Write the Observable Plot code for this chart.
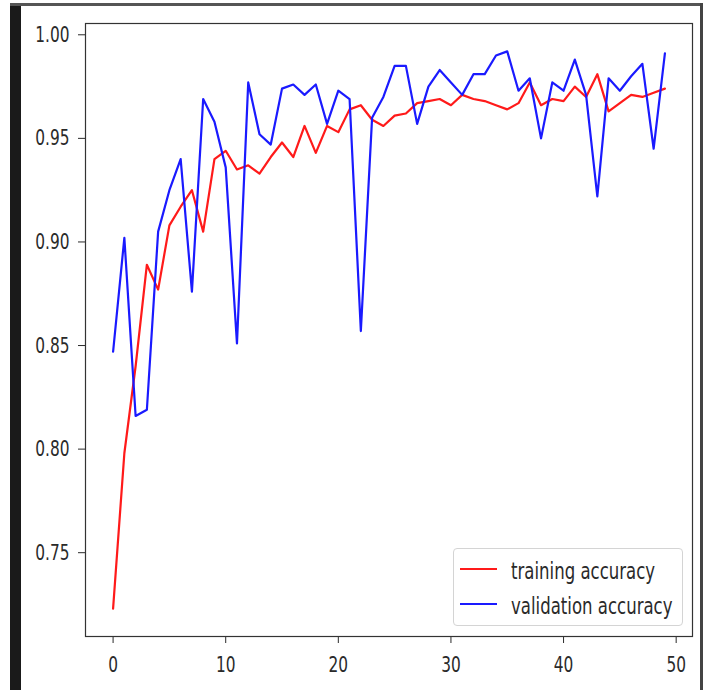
<!DOCTYPE html>
<html>
<head>
<meta charset="utf-8">
<script src="https://cdn.jsdelivr.net/npm/d3@7"></script>
<script src="https://cdn.jsdelivr.net/npm/@observablehq/plot@0.6"></script>
<style>
  html, body { margin: 0; padding: 0; background: #fff; }
  #wrap { position: relative; width: 705px; height: 690px; overflow: hidden; background: #fff; }
  #chart { position: absolute; left: 0; top: 0; }
  .deco { position: absolute; }
  #legend { position: absolute; left: 453px; top: 548px; width: 230px; height: 78px;
    border: 1px solid #d4d4d4; border-radius: 4px; background: rgba(255,255,255,0.85); box-sizing: border-box; }
  .sw { position: absolute; left: 6px; width: 37px; height: 2px; }
  .lt { position: absolute; left: 57px; font-family: "DejaVu Sans", sans-serif; font-size: 23px; color: #2a2a2a;
    white-space: nowrap; transform: scaleX(0.72); transform-origin: left center; line-height: 1; }
</style>
</head>
<body>
<div id="wrap">
  <div class="deco" style="left:10px;top:3px;width:11px;height:690px;background:#1a1a1a;"></div>
  <div class="deco" style="left:10px;top:3px;width:693px;height:3px;background:#555;"></div>
  <div class="deco" style="left:700px;top:3px;width:3px;height:690px;background:#444;"></div>
  <div id="chart"></div>
  <div id="legend"></div>
</div>
<script>
// ---- data ----
const epochs = d3.range(50);
const trainingAccuracy = [
  0.723, 0.798, 0.840, 0.889, 0.877, 0.908, 0.917, 0.925, 0.905, 0.940,
  0.944, 0.935, 0.937, 0.933, 0.941, 0.948, 0.941, 0.956, 0.943, 0.956,
  0.953, 0.964, 0.966, 0.959, 0.956, 0.961, 0.962, 0.967, 0.968, 0.969,
  0.966, 0.971, 0.969, 0.968, 0.966, 0.964, 0.967, 0.977, 0.966, 0.969,
  0.968, 0.975, 0.970, 0.981, 0.963, 0.967, 0.971, 0.970, 0.972, 0.974
];
const validationAccuracy = [
  0.847, 0.902, 0.816, 0.819, 0.905, 0.925, 0.940, 0.876, 0.969, 0.958,
  0.936, 0.851, 0.977, 0.952, 0.947, 0.974, 0.976, 0.971, 0.976, 0.957,
  0.973, 0.969, 0.857, 0.960, 0.970, 0.985, 0.985, 0.957, 0.975, 0.983,
  0.977, 0.971, 0.981, 0.981, 0.990, 0.992, 0.973, 0.979, 0.950, 0.977,
  0.973, 0.988, 0.971, 0.922, 0.979, 0.973, 0.980, 0.986, 0.945, 0.991
];
const seriesNames = ["training accuracy", "validation accuracy"];
const seriesColors = ["#ff1a1a", "#1a1aff"];
const xTicks = [0, 10, 20, 30, 40, 50];
const yTicks = [0.75, 0.80, 0.85, 0.90, 0.95, 1.00];

// ---- build table ----
const rows = [];
epochs.forEach((e, i) => {
  rows.push({epoch: e, acc: trainingAccuracy[i], series: seriesNames[0]});
  rows.push({epoch: e, acc: validationAccuracy[i], series: seriesNames[1]});
});

// matplotlib-like 5% margins
function padded(ext) { const m = (ext[1] - ext[0]) * 0.05; return [ext[0] - m, ext[1] + m]; }
const xDomain = padded(d3.extent(epochs));
const yDomain = padded(d3.extent(rows, d => d.acc));

const svg = Plot.plot({
  width: 705,
  height: 690,
  marginLeft: 85,
  marginRight: 13,
  marginTop: 23,
  marginBottom: 54,
  style: {fontFamily: "DejaVu Sans, sans-serif", fontSize: "22px", color: "#2a2a2a", background: "transparent", overflow: "visible"},
  x: {domain: xDomain, ticks: xTicks, tickSize: 7, tickPadding: 13, label: null, tickFormat: d3.format("d")},
  y: {domain: yDomain, ticks: yTicks, tickSize: 7, tickPadding: 9, label: null, tickFormat: d3.format(".2f")},
  color: {domain: seriesNames, range: seriesColors},
  marks: [
    Plot.line(rows, {x: "epoch", y: "acc", z: "series", stroke: "series", strokeWidth: 2.2}),
    Plot.frame({stroke: "#333", strokeWidth: 1.2})
  ]
});
document.getElementById("chart").appendChild(svg);

// horizontally condense the tick labels like the (stretched) reference
const SX = 0.7;
for (const t of svg.querySelectorAll("text")) {
  const x = +(t.getAttribute("x") || 0);
  const prev = t.getAttribute("transform") || "";
  t.setAttribute("transform", `${prev} translate(${x},0) scale(${SX},1) translate(${-x},0)`);
}

// legend
const lg = document.getElementById("legend");
seriesNames.forEach((name, i) => {
  const cy = 20 + i * 35;
  const sw = document.createElement("div");
  sw.className = "sw";
  sw.style.top = (cy - 1) + "px";
  sw.style.background = seriesColors[i];
  lg.appendChild(sw);
  const lt = document.createElement("div");
  lt.className = "lt";
  lt.style.top = (cy - 9) + "px";
  lt.textContent = name;
  lg.appendChild(lt);
});
</script>
</body>
</html>
